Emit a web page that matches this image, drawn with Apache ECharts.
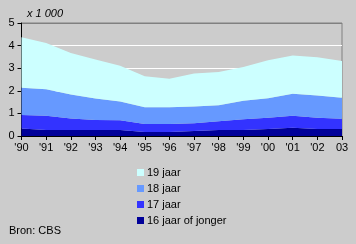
<!DOCTYPE html>
<html><head><meta charset="utf-8">
<script src="https://cdn.jsdelivr.net/npm/echarts@6/dist/echarts.min.js"></script>
<style>html,body{margin:0;padding:0;background:#cccccc;}#c{width:356px;height:244px;}</style>
</head><body><div id="c"></div>
<script>
var years = ["'90","'91","'92","'93","'94","'95","'96","'97","'98","'99","'00","'01","'02","03"];
var age16 = [0.33,0.27,0.27,0.27,0.27,0.18,0.18,0.22,0.27,0.27,0.31,0.37,0.31,0.31];
var age17 = [0.60,0.63,0.50,0.44,0.43,0.35,0.35,0.34,0.38,0.47,0.50,0.53,0.50,0.45];
var age18 = [1.20,1.17,1.07,0.95,0.83,0.74,0.74,0.74,0.71,0.82,0.86,0.97,0.98,0.93];
var age19 = [2.24,2.05,1.83,1.72,1.58,1.37,1.26,1.46,1.47,1.49,1.68,1.69,1.69,1.63];
var yTicks = [0,1,2,3,4,5];

var font = 'Liberation Sans, Arial, sans-serif';
function ser(name, data, color){
  return {name:name,type:'line',stack:'t',data:data,symbol:'none',
    lineStyle:{width:0},areaStyle:{color:color,opacity:1},itemStyle:{color:color}};
}
var chart = echarts.init(document.getElementById('c'));
chart.setOption({
  backgroundColor:'#cccccc',
  animation:false,
  textStyle:{fontFamily:font},
  title:[
    {text:'x 1 000',left:22,top:3,textStyle:{fontSize:11,fontStyle:'italic',fontWeight:'normal',color:'#000',fontFamily:font}},
    {text:'Bron: CBS',left:4,top:220,textStyle:{fontSize:11,fontWeight:'normal',color:'#000',fontFamily:font}}
  ],
  grid:{left:21.5,right:14,top:23,bottom:108,show:true,borderColor:'#808080',borderWidth:1,backgroundColor:'transparent'},
  legend:{orient:'vertical',left:132,top:162,itemWidth:7,itemHeight:7,itemGap:5,icon:'rect',
    data:['19 jaar','18 jaar','17 jaar','16 jaar of jonger'],
    textStyle:{fontSize:11,color:'#000',fontFamily:font,padding:[0,0,0,-2]}},
  xAxis:{type:'category',data:years,boundaryGap:false,
    axisLine:{lineStyle:{color:'#000'}},
    axisTick:{show:true,length:4,lineStyle:{color:'#000'}},
    axisLabel:{color:'#000',fontSize:11,margin:6,fontFamily:font,interval:0},
    splitLine:{show:false}},
  yAxis:{type:'value',min:0,max:5,interval:1,
    axisLine:{show:true,lineStyle:{color:'#000'}},
    axisTick:{show:true,length:4,lineStyle:{color:'#000'}},
    axisLabel:{color:'#000',fontSize:11,margin:7,fontFamily:font,
      formatter:function(v){return yTicks.indexOf(v)>=0?String(v):'';}},
    splitLine:{show:true,lineStyle:{color:['#ffffff','#ffffff','#ffffff','#ffffff','#ffffff','#808080'],width:1}}},
  series:[
    ser('16 jaar of jonger',age16,'#000099'),
    ser('17 jaar',age17,'#3333ff'),
    ser('18 jaar',age18,'#6699ff'),
    ser('19 jaar',age19,'#ccffff')
  ]
});
</script></body></html>
